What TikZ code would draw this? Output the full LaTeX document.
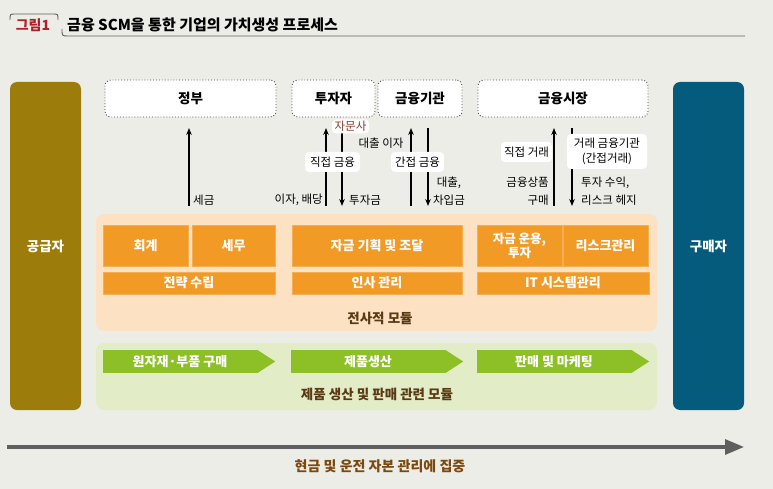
\documentclass[tikz,border=0pt]{standalone}
\usepackage{fontspec}
\setmainfont{Noto Sans CJK KR}
\usetikzlibrary{arrows.meta,calc}
\definecolor{bg}{HTML}{EDEDE8}
\definecolor{olive}{HTML}{9C7C0A}
\definecolor{teal}{HTML}{055B7B}
\definecolor{opanel}{HTML}{FCE1C3}
\definecolor{obox}{HTML}{F29A26}
\definecolor{gpanel}{HTML}{E2EDC8}
\definecolor{gbox}{HTML}{8CC026}
\definecolor{figred}{HTML}{B0202A}
\definecolor{brown}{HTML}{5A3A14}
\definecolor{advred}{HTML}{8B3A2A}
\definecolor{lgray}{HTML}{5F5F5F}
\tikzset{
  side/.style={rounded corners=7pt, minimum width=71pt, minimum height=328pt, inner sep=0pt,
    text=white, font=\bfseries\fontsize{13.5}{15}\selectfont},
  topbox/.style={draw=black!70, dotted, line width=0.9pt, fill=white, rounded corners=6pt,
    minimum height=37pt, inner sep=0pt, font=\bfseries\fontsize{13.5}{15}\selectfont},
  panel/.style={rounded corners=8pt, inner sep=0pt},
  obx/.style={fill=obox, draw=obox!80!white, line width=0.6pt, inner sep=0pt, text=white,
    font=\bfseries\fontsize{13}{14}\selectfont, align=center},
  gbx/.style={fill=gbox, inner sep=0pt, minimum height=23pt, text=white,
    font=\bfseries\fontsize{13}{14}\selectfont},
  lblbox/.style={fill=white, rounded corners=4pt, inner sep=0pt, align=center,
    font=\fontsize{11.5}{14}\selectfont},
  lbl/.style={inner sep=0pt, align=center, font=\fontsize{11.5}{18}\selectfont},
  arr/.style={line width=1.1pt, -{Stealth[length=7pt,width=5.5pt]}},
  modlbl/.style={text=brown, font=\bfseries\fontsize{13.5}{15}\selectfont}
}
\begin{document}
\begin{tikzpicture}[x=1pt,y=-1pt]
\fill[bg] (0,0) rectangle (773,489);
\useasboundingbox (0,0) rectangle (773,489);
% title
\draw[lgray, line width=0.9pt] (10,20) .. controls (10,14) .. (15,14) -- (53,14) .. controls (58,14) .. (58,20);
\draw[lgray, line width=0.9pt] (62,29) .. controls (62,36) .. (68,36) -- (745,36);
\node[text=figred, font=\bfseries\fontsize{14}{15}\selectfont, inner sep=0pt] (fig) at (33,25) {그림1};
\node[anchor=west, font=\bfseries\fontsize{15}{16}\selectfont, inner sep=0pt] (title) at (67,25) {금융 SCM을 통한 기업의 가치생성 프로세스};
% sides
\node[side, fill=olive] (sup) at (45.5,246) {공급자};
\node[side, fill=teal] (buy) at (708.5,246) {구매자};
% top boxes
\node[topbox, minimum width=171pt] (gov) at (190.5,98.5) {정부};
\node[topbox, minimum width=83pt] (inv) at (333.5,98.5) {투자자};
\node[topbox, minimum width=84pt] (fin) at (420,98.5) {금융기관};
\node[topbox, minimum width=170pt] (mkt) at (563,98.5) {금융시장};
% orange panel
\node[panel, fill=opanel, minimum width=561pt, minimum height=117pt] (opn) at (376.5,272.5) {};
\node[obx, minimum width=85pt, minimum height=41pt] (acc) at (145.5,245.5) {회계};
\node[obx, minimum width=83pt, minimum height=41pt] (tax) at (233.5,245.5) {세무};
\node[obx, minimum width=170pt, minimum height=41pt] (fund) at (377,245.5) {자금 기획 및 조달};
\node[obx, minimum width=85pt, minimum height=41pt, font=\bfseries\fontsize{12.5}{14}\selectfont] (use) at (519.5,245.5) {자금 운용,\\투자};
\node[obx, minimum width=85pt, minimum height=41pt] (risk) at (605.5,245.5) {리스크관리};
\node[obx, minimum width=172pt, minimum height=22pt] (strat) at (189,283) {전략 수립};
\node[obx, minimum width=170pt, minimum height=22pt] (hr) at (377,283) {인사 관리};
\node[obx, minimum width=172pt, minimum height=22pt] (it) at (563,283) {IT 시스템관리};
\node[modlbl] (ent) at (380,318) {전사적 모듈};
% green panel
\node[panel, fill=gpanel, minimum width=561pt, minimum height=67pt] (gpn) at (376.5,376.5) {};
\node[gbx, minimum width=154pt] (g1) at (180,361.5) {원자재·부품 구매};
\node[gbx, minimum width=154pt] (g2) at (368,361.5) {제품생산};
\node[gbx, minimum width=154pt] (g3) at (554,361.5) {판매 및 마케팅};
\foreach \g in {g1,g2,g3}{
  \fill[gbox] (\g.north east) -- ($(\g.east)+(18,0)$) -- (\g.south east) -- cycle;
}
\node[modlbl] (prod) at (377,394) {제품 생산 및 판매 관련 모듈};
% arrows
\coordinate (govB) at (189,206); \coordinate (govT) at (189,128);
\coordinate (invUB) at (326,206); \coordinate (invUT) at (326,128);
\coordinate (invDT) at (342,128); \coordinate (invDB) at (342,206);
\coordinate (finUB) at (411,206); \coordinate (finUT) at (411,128);
\coordinate (finDT) at (428,128); \coordinate (finDB) at (428,206);
\coordinate (mktUB) at (554,206); \coordinate (mktUT) at (554,128);
\coordinate (mktDT) at (572,128); \coordinate (mktDB) at (572,206);
\draw[arr] (govB) -- (govT);
\draw[arr] (invUB) -- (invUT);
\draw[arr] (invDT) -- (invDB);
\draw[arr] (finUB) -- (finUT);
\draw[arr] (finDT) -- (finDB);
\draw[arr] (mktUB) -- (mktUT);
\draw[arr] (mktDT) -- (mktDB);
% label boxes
\node[lblbox, minimum width=37pt, minimum height=14pt, text=advred] (adv) at (350.5,126.5) {자문사};
\node[lblbox, minimum width=55pt, minimum height=20pt] (dfin) at (332.5,162) {직접 금융};
\node[lblbox, minimum width=53pt, minimum height=20pt] (ifin) at (417.5,162) {간접 금융};
\node[lblbox, minimum width=51pt, minimum height=20pt] (dtr) at (526.5,152) {직접 거래};
\node[lblbox, minimum width=80pt, minimum height=35pt, font=\fontsize{11.5}{15}\selectfont] (itr) at (607,151.5) {거래 금융기관\\(간접거래)};
% plain labels
\node[lbl, anchor=west] (l1) at (193,200) {세금};
\node[lbl, anchor=east] (l2) at (323,200) {이자, 배당};
\node[lbl, anchor=west] (l3) at (349,200) {투자금};
\node[lbl] (l4) at (381,143) {대출 이자};
\node[lbl] (l5) at (449,191) {대출,\\차입금};
\node[lbl, anchor=east, align=right] (l6) at (549,191) {금융상품\\구매};
\node[lbl, anchor=west, align=left] (l7) at (581,191) {투자 수익,\\리스크 헤지};
% bottom arrow
\coordinate (cs) at (7,447); \coordinate (ce) at (744,447);
\draw[line width=3.2pt, draw=lgray, -{Triangle[length=19pt,width=15pt]}] (cs) -- (ce);
\node[modlbl, text=brown!80!orange, font=\bfseries\fontsize{14}{15}\selectfont] (cash) at (380,466) {현금 및 운전 자본 관리에 집중};
\end{tikzpicture}
\end{document}
